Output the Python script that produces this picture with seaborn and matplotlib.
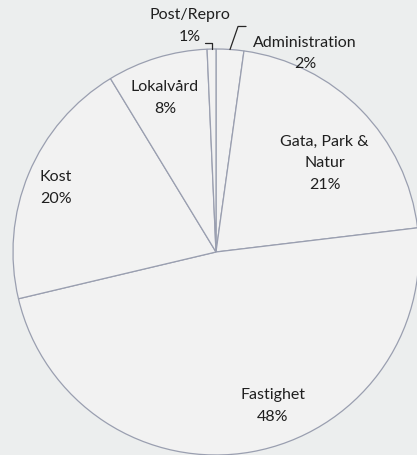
import numpy as np
import seaborn as sns
import matplotlib.pyplot as plt

# data (share of total, %)
categories = ["Administration", "Gata, Park &\nNatur", "Fastighet", "Kost", "Lokalvård", "Post/Repro"]
shares = [2.2, 20.9, 48.2, 20.0, 8.0, 0.7]
pct_labels = ["2%", "21%", "48%", "20%", "8%", "1%"]

sns.set_style("white")
plt.rcParams["font.family"] = ["Lato", "DejaVu Sans"]

W, H = 417, 455
fig = plt.figure(figsize=(W / 100, H / 100), dpi=100, facecolor="#eceeee")
ax = fig.add_axes([0, 0, 1, 1])
ax.set_facecolor("#eceeee")

cx, cy, R = 216, H - 252, 203
wedges, _ = ax.pie(
    shares, startangle=90, counterclock=False, center=(cx, cy), radius=R,
    colors=["#f2f2f2"] * len(shares),
    wedgeprops=dict(edgecolor="#9a9fb0", linewidth=0.9),
)
ax.set_xlim(0, W)
ax.set_ylim(0, H)
ax.set_aspect("equal")
ax.axis("off")

txt = dict(fontsize=11.5, color="#1f1f1f", ha="center", va="center", linespacing=1.7)


def polar(theta_deg, frac):
    # theta measured clockwise from 12 o'clock
    t = np.radians(theta_deg)
    return cx + frac * R * np.sin(t), cy + frac * R * np.cos(t)


# inside labels: (angle from top, fraction of radius)
inside = {"Gata, Park &\nNatur": (50.8, 0.69), "Fastighet": (159.8, 0.81),
          "Kost": (291.8, 0.85), "Lokalvård": (341.7, 0.80)}
for name, pct in zip(categories, pct_labels):
    if name in inside:
        x, y = polar(*inside[name])
        ax.text(x, y, f"{name}\n{pct}", **txt)

# wedge mid angles for the small slices
cum = np.cumsum([0] + shares)
mid = {c: 360 * (cum[i] + cum[i + 1]) / 200 for i, c in enumerate(categories)}

# Administration, leader up and to the right
x0, y0 = polar(mid["Administration"], 1.0)
ax.plot([x0, x0 + 8, x0 + 16], [y0, y0 + 23, y0 + 23], color="#262626", lw=0.9)
ax.text(x0 + 75, y0 - 4, "Administration\n2%", **txt)

# Post/Repro, leader up and to the left
x1, y1 = polar(mid["Post/Repro"], 1.0)
ax.plot([x1, x1, x1 - 7], [y1, y1 + 6, y1 + 6], color="#262626", lw=0.9)
ax.text(x1 - 22, y1 + 23, "Post/Repro\n1%", **txt)

fig.savefig("out.png", dpi=100, facecolor=fig.get_facecolor())
